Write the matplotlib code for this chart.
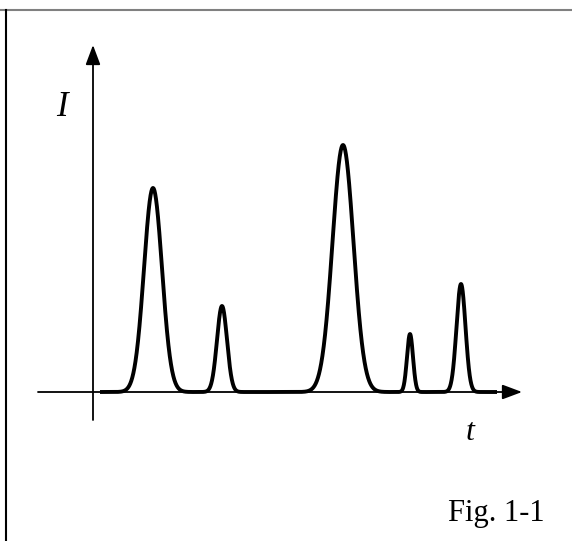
import numpy as np
import matplotlib.pyplot as plt
from matplotlib.lines import Line2D

# peak parameters (t in pixel-like units from the origin, I upward)
peak_centers = [60, 129, 250, 317, 368]
peak_heights = [204, 86, 247, 58, 108]
peak_widths = [9.0, 5.0, 10.5, 3.0, 4.5]
t_start, t_end = 7, 404

W, H = 572, 541
ox, oy = 93, 392  # origin in pixels

fig = plt.figure(figsize=(W / 100, H / 100), dpi=100)
ax = fig.add_axes([0, 0, 1, 1])
ax.set_xlim(-ox, W - ox)
ax.set_ylim(-(H - oy), oy)
ax.axis("off")

t = np.linspace(t_start, t_end, 3000)
signal = np.zeros_like(t)
for c, h, s in zip(peak_centers, peak_heights, peak_widths):
    signal += h * np.exp(-0.5 * ((t - c) / s) ** 2)

# axes with arrows
ax.annotate("", xy=(522 - ox, 0), xytext=(38 - ox, 0),
            arrowprops=dict(arrowstyle="-|>,head_length=1.2,head_width=0.45",
                            color="black", lw=1.3, shrinkA=0, shrinkB=0))
ax.annotate("", xy=(0, oy - 45), xytext=(0, oy - 420),
            arrowprops=dict(arrowstyle="-|>,head_length=1.2,head_width=0.45",
                            color="black", lw=1.3, shrinkA=0, shrinkB=0))

ax.plot(t, signal, color="black", lw=2.8, solid_capstyle="butt")

serif = ["Liberation Serif", "DejaVu Serif"]
ax.text(62 - ox, oy - 108, "I", family=serif, style="italic", fontsize=25,
        ha="center", va="center")
ax.text(470 - ox, oy - 432, "t", family=serif, style="italic", fontsize=23,
        ha="center", va="center")
ax.text(496 - ox, oy - 513, "Fig. 1-1", family=serif, fontsize=22,
        ha="center", va="center")

# frame lines (top gray, left black)
fig.add_artist(Line2D([0, 1], [1 - 10 / H, 1 - 10 / H], color="gray", lw=1.5))
fig.add_artist(Line2D([6 / W, 6 / W], [0, 1 - 10 / H], color="black", lw=1.5))

fig.savefig("out.png", dpi=100)
